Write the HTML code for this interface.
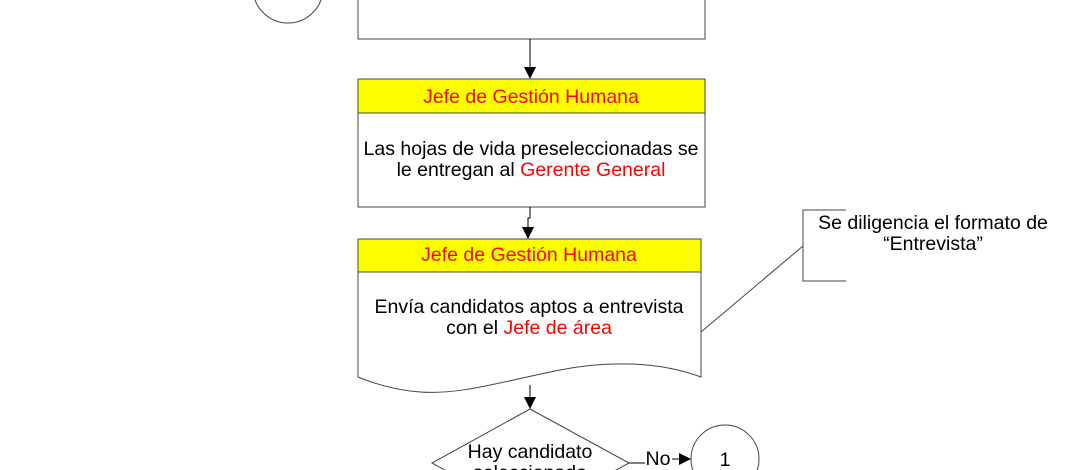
<!DOCTYPE html>
<html><head><meta charset="utf-8"><style>
html,body{margin:0;background:#fff;overflow:hidden;width:1070px;height:470px;}
svg{display:block;font-family:"Liberation Sans",sans-serif;}
</style></head><body>
<svg width="1070" height="470" viewBox="0 0 1070 470">
<defs><marker id="a" markerWidth="12" markerHeight="12" refX="11" refY="6" orient="auto" markerUnits="userSpaceOnUse"><path d="M0,0 L12,6 L0,12 z" fill="#000"/></marker></defs>
<g stroke="#444" stroke-width="1" fill="#fff">
<circle cx="288" cy="-12" r="35"/>
<rect x="358" y="-10" width="347" height="49"/>
<rect x="358" y="79" width="347" height="128"/>
<rect x="358" y="79" width="347" height="34" fill="#ffff00"/>
<path d="M358,239 H701 V377 C660,362 610,360 560,370 C500,382 460,395 420,392 C395,390 375,384 358,377 Z"/>
<rect x="358" y="239" width="343" height="33" fill="#ffff00"/>
<path d="M530,409 L629,463 L530,517 L432,463 Z"/>
<circle cx="725" cy="459" r="34"/>
<path d="M846,210 H803 V281 H846" fill="none"/>
<path d="M803,246 L701,332" fill="none"/>
</g>
<g stroke="#000" fill="none">
<line x1="530" y1="39" x2="530" y2="78" marker-end="url(#a)"/>
<path d="M530,207 V218 H528 V238" marker-end="url(#a)"/>
<line x1="530" y1="385" x2="530" y2="408" marker-end="url(#a)"/>
<line x1="629" y1="463" x2="645" y2="463"/>
<line x1="672" y1="459" x2="690" y2="459" marker-end="url(#a)"/>
</g>
<g font-size="19.5" text-anchor="middle">
<text x="531" y="103" fill="#f00">Jefe de Gestión Humana</text>
<text x="531" y="155">Las hojas de vida preseleccionadas se</text>
<text x="531" y="176">le entregan al <tspan fill="#f00">Gerente General</tspan></text>
<text x="529" y="261" fill="#f00">Jefe de Gestión Humana</text>
<text x="529" y="313">Envía candidatos aptos a entrevista</text>
<text x="529" y="334">con el <tspan fill="#f00">Jefe de área</tspan></text>
<text x="530" y="458">Hay candidato</text>
<text x="530" y="479">seleccionado</text>
<text x="658" y="465">No</text>
<text x="725" y="466">1</text>
<text x="933" y="229">Se diligencia el formato de</text>
<text x="933" y="250">“Entrevista”</text>
</g>
</svg>
</body></html>
